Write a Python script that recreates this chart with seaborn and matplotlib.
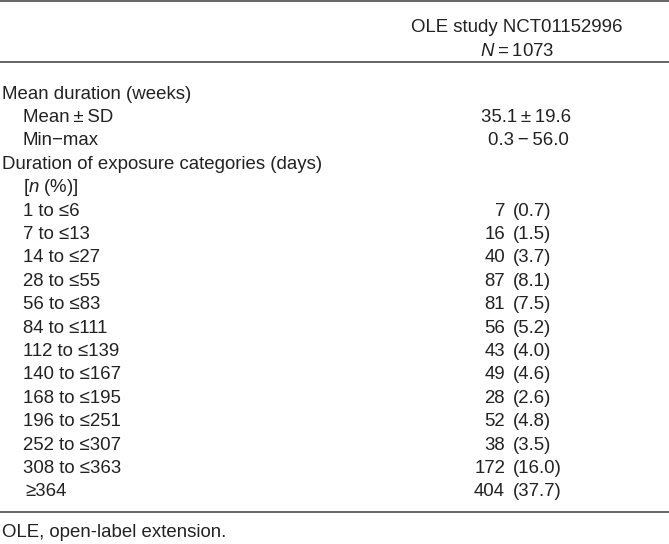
import matplotlib
matplotlib.use("Agg")
import matplotlib.pyplot as plt
import seaborn as sns

# ---- data ----
header_title = "OLE study NCT01152996"
header_n = 1073
mean_weeks = 35.1
sd_weeks = 19.6
min_weeks = 0.3
max_weeks = 56.0
categories = ["1 to \u22646", "7 to \u226413", "14 to \u226427", "28 to \u226455",
              "56 to \u226483", "84 to \u2264111", "112 to \u2264139", "140 to \u2264167",
              "168 to \u2264195", "196 to \u2264251", "252 to \u2264307", "308 to \u2264363",
              "\u2265364"]
n_values = [7, 16, 40, 87, 81, 56, 43, 49, 28, 52, 38, 172, 404]
pct_values = [0.7, 1.5, 3.7, 8.1, 7.5, 5.2, 4.0, 4.6, 2.6, 4.8, 3.5, 16.0, 37.7]
footnote = "OLE, open-label extension."

sns.set_theme(style="white")
plt.rcParams['font.family'] = ['Liberation Sans', 'DejaVu Sans']
plt.rcParams['mathtext.fontset'] = 'custom'
plt.rcParams['mathtext.rm'] = 'Liberation Sans'
plt.rcParams['mathtext.it'] = 'Liberation Sans:italic'

W, H = 669, 544
fig = plt.figure(figsize=(W / 100, H / 100), dpi=100)
ax = fig.add_axes([0, 0, 1, 1])
ax.set_xlim(0, W)
ax.set_ylim(H, 0)
ax.axis("off")

txt = "#222222"
fs = 13.4
line_c = "#4a4a4a"
cap = 6.6  # half cap height in px

def put(x, y, s, ha="left", **kw):
    ax.text(x, y + cap, s, ha=ha, va="baseline", fontsize=fs, color=txt, **kw)

# rules
for yy in (1, 62, 512):
    ax.plot([0, W], [yy, yy], color=line_c, lw=1.2, solid_capstyle="butt")

# header
put(517, 25, header_title, ha="center")
put(517, 49, r"$\it{N}$" + "\u2009=\u2009" + f"{header_n}", ha="center")

x0, x1 = 2, 23
y0, step = 92, 23.4
put(x0, y0, "Mean duration (weeks)")
put(x1, y0 + step, "Mean\u2009\u00b1\u2009SD")
put(526, y0 + step, f"{mean_weeks}\u2009\u00b1\u2009{sd_weeks}", ha="center")
put(x1, y0 + 2 * step, "Min\u2212max")
put(528, y0 + 2 * step, f"{min_weeks}\u2009\u2212\u2009{max_weeks}", ha="center")
put(x0, y0 + 3 * step, "Duration of exposure categories (days)")
put(x1, y0 + 4 * step, "[" + r"$\it{n}$" + " (%)]")

for i, (c, n, p) in enumerate(zip(categories, n_values, pct_values)):
    y = y0 + (5 + i) * step
    xl = x1 + (2 if c.startswith("\u2265") else 0)
    put(xl, y, c)
    put(505, y, f"{n}", ha="right")
    put(513, y, f"({p:.1f})", ha="left")

put(2, 530, footnote)

fig.savefig("out.png", dpi=100)
